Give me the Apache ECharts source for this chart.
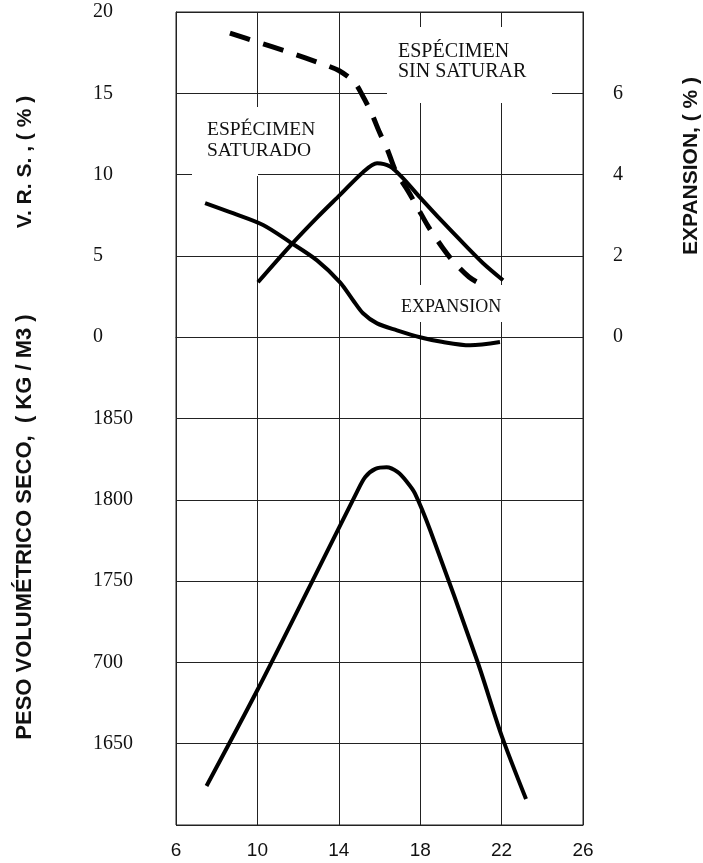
<!DOCTYPE html>
<html>
<head>
<meta charset="utf-8">
<script src="https://cdn.jsdelivr.net/npm/echarts@6/dist/echarts.min.js"></script>
<style>
html,body{margin:0;padding:0;background:#fff;}
#chart{width:703px;height:863px;}
</style>
</head>
<body>
<div id="chart"></div>
<script>
// ---- Data ----
const xTicks = ['6', '10', '14', '18', '22', '26'];
const vrsTickValues = [0, 5, 10, 15, 20];
const vrsTickLabels = ['0', '5', '10', '15', '20'];
const densityTickValues = [1650, 1700, 1750, 1800, 1850];
const densityTickLabels = ['1650', '700', '1750', '1800', '1850'];
const expTickValues = [0, 2, 4, 6];
const expTickLabels = ['0', '2', '4', '6'];

// V.R.S. specimen not saturated (dashed)
const sinSatX = [8.65, 10.0, 11.5, 13.2, 14.0, 14.75, 15.15, 15.6, 16.0, 16.4, 16.8, 17.4, 17.9, 18.4, 19.1, 19.6, 20.4, 21.0, 21.5];
const sinSatVRS = [18.7, 18.15, 17.55, 16.8, 16.4, 15.7, 14.9, 13.8, 12.6, 11.5, 10.2, 9.0, 7.9, 6.8, 5.5, 4.7, 3.7, 3.25, 2.95];

// V.R.S. specimen saturated (solid)
const satX = [10.03, 11.6, 12.93, 14.06, 15.19, 15.88, 16.52, 17.15, 17.99, 19.12, 20.3, 21.09, 22.07];
const satVRS = [3.38, 5.6, 7.35, 8.75, 10.15, 10.7, 10.5, 9.78, 8.6, 7.07, 5.54, 4.55, 3.5];

// Expansion (%)
const expX = [7.43, 8.8, 10.28, 11.6, 12.93, 14.06, 14.7, 15.19, 15.88, 16.86, 17.99, 19.12, 20.45, 21.92];
const expVal = [3.30, 3.05, 2.76, 2.34, 1.89, 1.35, 0.91, 0.59, 0.34, 0.17, 0.0, -0.12, -0.2, -0.12];

// Dry unit weight (kg/m3)
const denX = [7.5, 10.0, 12.7, 14.9, 15.3, 15.8, 16.35, 16.9, 17.35, 17.74, 18.5, 20.8, 22.0, 23.2];
const denVal = [1624, 1683, 1750, 1805, 1814, 1819, 1820, 1817, 1811, 1804, 1781, 1701, 1655, 1616];

// ---- Chart ----
const pairs = (xs, ys) => xs.map((x, i) => [x, ys[i]]);
const serif = '"Liberation Serif", "Times New Roman", serif';
const sans = '"Liberation Sans", Arial, sans-serif';
const ink = '#111';
const gridColor = '#222';

const chart = echarts.init(document.getElementById('chart'), null, {renderer: 'canvas'});

const option = {
  backgroundColor: '#fff',
  animation: false,
  grid: {left: 176, right: 120, top: 12, bottom: 38, show: true, borderColor: gridColor, borderWidth: 1, containLabel: false},
  xAxis: {
    type: 'value', min: 6, max: 26, interval: 4,
    axisLine: {show: true, lineStyle: {color: gridColor, width: 1}},
    axisTick: {show: false},
    splitLine: {show: true, lineStyle: {color: gridColor, width: 1}},
    axisLabel: {
      margin: 16, fontFamily: sans, fontSize: 19, color: ink,
      formatter: v => { const i = Math.round((v - 6) / 4); return xTicks[i] !== undefined ? xTicks[i] : ''; }
    }
  },
  yAxis: [
    {
      type: 'value', min: -30, max: 20, interval: 5, position: 'left',
      axisLine: {show: true, lineStyle: {color: gridColor, width: 1}},
      axisTick: {show: false},
      splitLine: {show: true, lineStyle: {color: gridColor, width: 1}},
      axisLabel: {
        margin: 83, align: 'left', fontFamily: serif, fontSize: 20, color: ink,
        formatter: v => { const i = vrsTickValues.indexOf(v); return i >= 0 ? vrsTickLabels[i] : ''; }
      }
    },
    {
      type: 'value', min: 1600, max: 2100, interval: 50, position: 'left',
      axisLine: {show: false}, axisTick: {show: false}, splitLine: {show: false},
      axisLabel: {
        margin: 83, align: 'left', fontFamily: serif, fontSize: 20, color: ink,
        formatter: v => { const i = densityTickValues.indexOf(v); return i >= 0 ? densityTickLabels[i] : ''; }
      }
    },
    {
      type: 'value', min: -12, max: 8, interval: 2, position: 'right',
      axisLine: {show: true, lineStyle: {color: gridColor, width: 1}},
      axisTick: {show: false}, splitLine: {show: false},
      axisLabel: {
        margin: 30, align: 'left', fontFamily: serif, fontSize: 20, color: ink,
        formatter: v => { const i = expTickValues.indexOf(v); return i >= 0 ? expTickLabels[i] : ''; }
      }
    }
  ],
  series: [
    {
      name: 'ESPÉCIMEN SIN SATURAR', type: 'line', yAxisIndex: 0, data: pairs(sinSatX, sinSatVRS),
      symbol: 'none', smooth: 0.3, z: 3,
      lineStyle: {color: '#000', width: 5, type: [21, 14], cap: 'butt'}
    },
    {
      name: 'ESPÉCIMEN SATURADO', type: 'line', yAxisIndex: 0, data: pairs(satX, satVRS),
      symbol: 'none', smooth: 0.3, z: 3,
      lineStyle: {color: '#000', width: 4}
    },
    {
      name: 'EXPANSION', type: 'line', yAxisIndex: 2, data: pairs(expX, expVal),
      symbol: 'none', smooth: 0.3, z: 3,
      lineStyle: {color: '#000', width: 4}
    },
    {
      name: 'PESO VOLUMÉTRICO SECO', type: 'line', yAxisIndex: 1, data: pairs(denX, denVal),
      symbol: 'none', smooth: 0.3, z: 3,
      lineStyle: {color: '#000', width: 4}
    }
  ],
  graphic: {
    elements: [
      // white label boxes
      {type: 'rect', z: 100, shape: {x: 387, y: 27, width: 165, height: 76}, style: {fill: '#fff'}},
      {type: 'rect', z: 100, shape: {x: 192, y: 107, width: 135, height: 64}, style: {fill: '#fff'}},
      {type: 'rect', z: 100, shape: {x: 192, y: 170, width: 66, height: 6}, style: {fill: '#fff'}},
      {type: 'rect', z: 100, shape: {x: 392, y: 285, width: 116, height: 37}, style: {fill: '#fff'}},
      // annotation texts
      {type: 'text', z: 101, x: 398, y: 42, style: {text: 'ESPÉCIMEN\nSIN SATURAR', font: '20px ' + serif, fill: ink, lineHeight: 20, align: 'left', verticalAlign: 'top'}},
      {type: 'text', z: 101, x: 207, y: 119, style: {text: 'ESPÉCIMEN\nSATURADO', font: '19.5px ' + serif, fill: ink, lineHeight: 21, align: 'left', verticalAlign: 'top'}},
      {type: 'text', z: 101, x: 401, y: 298, style: {text: 'EXPANSION', font: '18px ' + serif, fill: ink, align: 'left', verticalAlign: 'top'}},
      // axis titles
      {type: 'text', z: 101, x: 25, y: 162, rotation: Math.PI / 2, style: {text: 'V. R. S. , ( % )', font: 'bold 21px ' + sans, fill: ink, align: 'center', verticalAlign: 'middle'}},
      {type: 'text', z: 101, x: 25, y: 527, rotation: Math.PI / 2, style: {text: 'PESO VOLUMÉTRICO SECO,  ( KG / M3 )', font: 'bold 22px ' + sans, fill: ink, align: 'center', verticalAlign: 'middle'}},
      {type: 'text', z: 101, x: 691, y: 166, rotation: Math.PI / 2, style: {text: 'EXPANSION, ( % )', font: 'bold 21px ' + sans, fill: ink, align: 'center', verticalAlign: 'middle'}}
    ]
  }
};
chart.setOption(option);
</script>
</body>
</html>
